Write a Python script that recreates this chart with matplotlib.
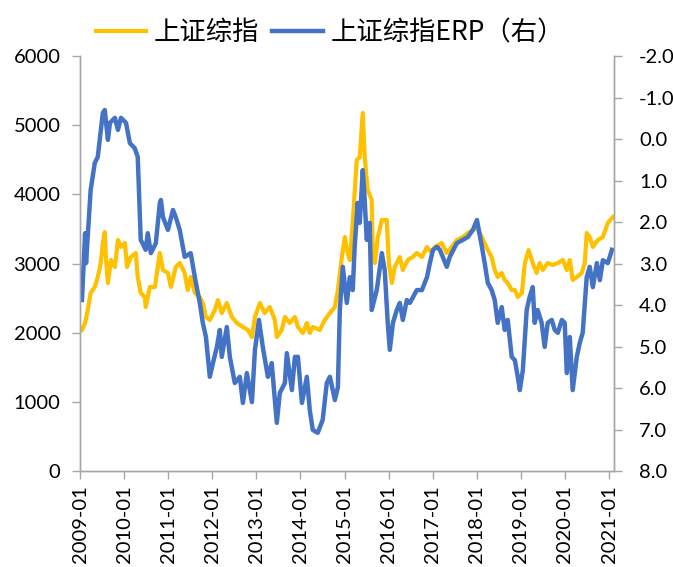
import numpy as np
import pandas as pd
import matplotlib
matplotlib.use("Agg")
from matplotlib import pyplot as plt
import matplotlib.dates as mdates
from matplotlib.ticker import FuncFormatter

plt.rcParams['font.family'] = ['Lato', 'Noto Sans CJK SC', 'DejaVu Sans']

# 上证综指 (left axis)
sh_dates = [
    "2009-01-17", "2009-02-12", "2009-03-06", "2009-03-30", "2009-05-03", "2009-05-28",
    "2009-06-22", "2009-07-09", "2009-07-25", "2009-08-03", "2009-08-20", "2009-09-14",
    "2009-10-17", "2009-11-11", "2009-12-06", "2010-01-08", "2010-01-25", "2010-02-26",
    "2010-04-08", "2010-04-24", "2010-05-19", "2010-06-21", "2010-06-29", "2010-08-02",
    "2010-09-13", "2010-10-24", "2010-11-19", "2010-12-30", "2011-01-24", "2011-03-05",
    "2011-04-07", "2011-05-18", "2011-06-12", "2011-07-07", "2011-08-10", "2011-09-20",
    "2011-10-15", "2011-11-10", "2011-12-12", "2012-01-23", "2012-02-17", "2012-03-20",
    "2012-05-01", "2012-06-12", "2012-07-23", "2012-09-11", "2012-10-22", "2012-11-25",
    "2012-12-20", "2013-01-30", "2013-03-11", "2013-04-22", "2013-06-03", "2013-06-19",
    "2013-07-30", "2013-08-25", "2013-10-05", "2013-11-16", "2013-12-11", "2014-01-21",
    "2014-02-23", "2014-03-19", "2014-04-13", "2014-06-10", "2014-07-21", "2014-09-02",
    "2014-10-13", "2014-11-07", "2014-12-10", "2015-01-04", "2015-01-20", "2015-02-14",
    "2015-03-10", "2015-04-12", "2015-05-07", "2015-06-01", "2015-06-17", "2015-07-12",
    "2015-08-14", "2015-08-23", "2015-09-09", "2015-10-04", "2015-11-06", "2015-12-17",
    "2016-01-03", "2016-01-28", "2016-02-21", "2016-04-03", "2016-04-28", "2016-06-08",
    "2016-07-19", "2016-08-22", "2016-10-03", "2016-11-14", "2016-12-24", "2017-01-19",
    "2017-03-16", "2017-04-27", "2017-06-07", "2017-07-19", "2017-09-08", "2017-10-19",
    "2017-11-29", "2018-01-02", "2018-03-07", "2018-04-02", "2018-05-04", "2018-05-29",
    "2018-06-23", "2018-07-26", "2018-08-20", "2018-09-14", "2018-10-17", "2018-11-12",
    "2018-12-06", "2019-01-09", "2019-02-03", "2019-03-06", "2019-04-09", "2019-05-11",
    "2019-06-06", "2019-07-01", "2019-08-11", "2019-09-22", "2019-11-03", "2019-12-14",
    "2020-01-16", "2020-02-10", "2020-03-05", "2020-04-08", "2020-05-19", "2020-06-13",
    "2020-06-29", "2020-07-24", "2020-08-19", "2020-09-29", "2020-11-10", "2020-12-21",
    "2021-02-01",
]
sh_index = [
    2039, 2140, 2328, 2574, 2660, 2805,
    3007, 3296, 3455, 3094, 2718, 3051,
    2949, 3340, 3239, 3296, 2949, 3094,
    3152, 2805, 2574, 2516, 2371, 2660,
    2660, 3152, 2906, 2863, 2660, 2949,
    3007, 2863, 2617, 2805, 2574, 2516,
    2429, 2227, 2183, 2328, 2472, 2284,
    2429, 2227, 2140, 2082, 2039, 1937,
    2227, 2429, 2284, 2371, 2183, 1937,
    2039, 2227, 2140, 2227, 2082, 1995,
    2140, 1995, 2082, 2039, 2183, 2284,
    2371, 2617, 3094, 3383, 3195, 3051,
    3586, 4496, 4540, 5176, 4540, 4063,
    3918, 3195, 3007, 3383, 3629, 3629,
    3007, 2718, 2949, 3094, 2906, 3051,
    3094, 3152, 3094, 3239, 3152, 3239,
    3296, 3152, 3239, 3340, 3383, 3441,
    3484, 3528, 3296, 3195, 3094, 2906,
    2805, 2863, 2762, 2718, 2617, 2617,
    2516, 2574, 3007, 3195, 3007, 2863,
    3007, 2906, 3007, 2978, 3007, 3051,
    2906, 3051, 2762, 2805, 2863, 3007,
    3441, 3383, 3239, 3340, 3383, 3586,
    3672,
]

# 上证综指ERP (right axis, inverted)
erp_dates = [
    "2009-01-17", "2009-02-12", "2009-02-20", "2009-03-30", "2009-05-03", "2009-05-28",
    "2009-07-09", "2009-07-25", "2009-08-20", "2009-09-06", "2009-10-17", "2009-11-11",
    "2009-12-06", "2010-01-17", "2010-02-18", "2010-03-30", "2010-04-24", "2010-05-11",
    "2010-05-19", "2010-06-29", "2010-07-16", "2010-08-11", "2010-09-21", "2010-10-24",
    "2010-11-02", "2010-11-19", "2010-12-30", "2011-02-10", "2011-03-05", "2011-04-07",
    "2011-05-18", "2011-07-07", "2011-08-10", "2011-09-20", "2011-10-15", "2011-11-10",
    "2011-12-12", "2012-01-07", "2012-02-09", "2012-03-04", "2012-03-20", "2012-05-01",
    "2012-05-26", "2012-07-06", "2012-08-17", "2012-09-11", "2012-10-14", "2012-11-25",
    "2012-12-20", "2013-01-22", "2013-02-23", "2013-04-06", "2013-05-08", "2013-06-19",
    "2013-07-14", "2013-08-25", "2013-09-10", "2013-10-22", "2013-11-16", "2013-12-11",
    "2014-01-13", "2014-02-23", "2014-03-19", "2014-04-13", "2014-05-24", "2014-07-04",
    "2014-08-07", "2014-09-02", "2014-10-13", "2014-11-07", "2014-11-23", "2014-12-18",
    "2015-01-20", "2015-02-14", "2015-03-10", "2015-03-26", "2015-04-20", "2015-05-07",
    "2015-06-01", "2015-06-17", "2015-07-04", "2015-07-28", "2015-08-14", "2015-09-25",
    "2015-11-06", "2015-11-30", "2015-12-25", "2016-01-11", "2016-02-06", "2016-03-09",
    "2016-04-03", "2016-04-28", "2016-05-31", "2016-06-25", "2016-08-22", "2016-10-03",
    "2016-11-14", "2016-12-08", "2017-01-03", "2017-02-05", "2017-02-28", "2017-03-25",
    "2017-04-27", "2017-05-22", "2017-07-19", "2017-09-08", "2017-10-19", "2017-11-29",
    "2018-01-02", "2018-02-12", "2018-03-07", "2018-04-02", "2018-05-04", "2018-05-29",
    "2018-06-23", "2018-07-26", "2018-08-20", "2018-09-14", "2018-10-17", "2018-11-12",
    "2018-12-06", "2018-12-23", "2019-01-17", "2019-02-18", "2019-03-14", "2019-04-09",
    "2019-04-25", "2019-05-20", "2019-06-22", "2019-07-17", "2019-08-11", "2019-09-14",
    "2019-10-08", "2019-11-03", "2019-12-06", "2019-12-30", "2020-01-16", "2020-02-10",
    "2020-03-05", "2020-04-08", "2020-05-02", "2020-05-27", "2020-06-29", "2020-07-24",
    "2020-08-19", "2020-09-21", "2020-10-16", "2020-11-10", "2020-12-21", "2021-01-24",
]
erp = [
    3.88, 2.27, 2.99, 1.23, 0.58, 0.43,
    -0.63, -0.70, 0.02, -0.39, -0.51, -0.22,
    -0.51, -0.39, 0.10, 0.22, 0.43, 1.78,
    2.43, 2.67, 2.27, 2.75, 2.51, 1.54,
    1.47, 1.88, 2.19, 1.71, 1.88, 2.19,
    2.84, 2.75, 3.33, 3.95, 4.43, 4.77,
    5.73, 5.40, 5.01, 4.60, 5.25, 4.53,
    5.25, 5.88, 5.73, 6.36, 5.64, 6.34,
    5.08, 4.36, 5.01, 5.73, 5.40, 6.84,
    6.12, 5.88, 5.16, 6.05, 5.25, 5.25,
    6.36, 5.73, 6.53, 7.01, 7.08, 6.77,
    5.88, 5.73, 6.29, 5.98, 4.12, 3.08,
    3.95, 3.33, 3.64, 2.60, 1.54, 2.02,
    0.75, 1.47, 2.43, 2.02, 4.12, 3.64,
    2.75, 3.16, 4.43, 5.08, 4.43, 4.12,
    3.95, 4.36, 3.88, 3.95, 3.64, 3.64,
    3.33, 2.99, 2.67, 2.60, 2.67, 2.84,
    3.08, 2.84, 2.51, 2.43, 2.36, 2.19,
    1.95, 2.60, 2.99, 3.47, 3.64, 3.88,
    4.43, 4.05, 4.60, 4.36, 5.25, 5.33,
    5.73, 6.05, 5.57, 4.12, 3.81, 3.57,
    4.43, 4.12, 4.43, 5.01, 4.43, 4.36,
    4.60, 4.67, 4.36, 4.43, 5.64, 4.77,
    6.05, 5.25, 4.92, 4.67, 3.33, 3.08,
    3.57, 2.99, 3.40, 2.92, 2.99, 2.67,
]

year_ticks = [f"{y}-01-01" for y in range(2009, 2022)]

sh_x = pd.to_datetime(sh_dates)
erp_x = pd.to_datetime(erp_dates)

yellow = "#FFC000"
blue = "#4472C4"
spine_c = "#A6A6A6"

fig = plt.figure(figsize=(6.73, 5.67), dpi=100)
ax = fig.add_axes([0.1189, 0.1693, 0.7934, 0.7319])
ax2 = ax.twinx()

l1, = ax.plot(sh_x, sh_index, color=yellow, lw=3.0, solid_joinstyle='round', label="上证综指")
l2, = ax2.plot(erp_x, erp, color=blue, lw=3.2, solid_joinstyle='round', label="上证综指ERP（右）")

ax.set_xlim(pd.Timestamp("2009-01-01"), pd.Timestamp("2021-02-10"))
ax.set_ylim(0, 6000)
ax.set_yticks(range(0, 6001, 1000))
ax2.set_ylim(8, -2)
ax2.set_yticks(np.arange(-2, 8.01, 1.0))
ax2.yaxis.set_major_formatter(FuncFormatter(lambda v, p: f"{v:.1f}"))

ax.set_xticks(pd.to_datetime(year_ticks))
ax.xaxis.set_major_formatter(mdates.DateFormatter("%Y-%m"))
for lbl in ax.get_xticklabels():
    lbl.set_rotation(90)

for a in (ax, ax2):
    a.spines['top'].set_visible(False)
    for s in ('left', 'right', 'bottom'):
        a.spines[s].set_color(spine_c)
        a.spines[s].set_linewidth(1.0)
    a.tick_params(axis='both', colors=spine_c, labelcolor='black',
                  labelsize=14.5, length=6, width=1.0)
ax.tick_params(axis='x', pad=4)
ax.tick_params(axis='y', pad=8)
ax2.tick_params(axis='y', pad=12)

fig.legend(handles=[l1, l2], loc='center', bbox_to_anchor=(0.49, 0.942), ncol=2,
           frameon=False, handlelength=1.9, handletextpad=0.3,
           columnspacing=0.5, prop={'family': ['Noto Sans CJK SC', 'DejaVu Sans'], 'size': 19})

fig.savefig("out.png", dpi=100)
